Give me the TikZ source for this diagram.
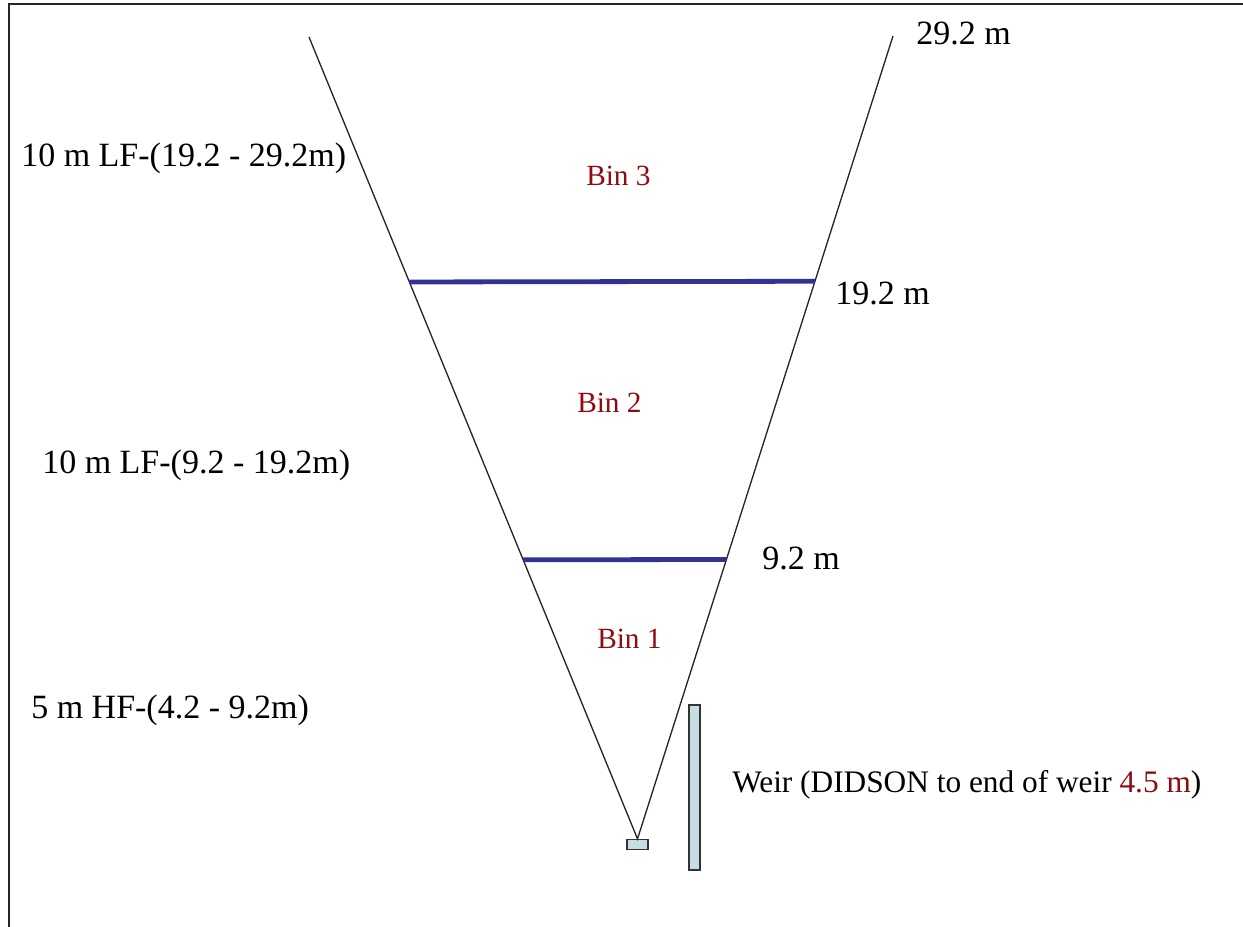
\documentclass[tikz,border=0pt]{standalone}
\usepackage{fontspec}
\setmainfont{Liberation Serif}
\usetikzlibrary{calc}
\definecolor{binblue}{RGB}{50,50,148}
\definecolor{binred}{RGB}{145,10,18}
\definecolor{boxfill}{RGB}{196,222,226}

\begin{document}
\begin{tikzpicture}[x=0.75pt,y=0.75pt,yscale=-1,xscale=1,
  beam/.style={draw=black!85, line width=1pt},
  binline/.style={draw=binblue, line width=3.6pt},
  dimtext/.style={anchor=base west, inner sep=0pt, font=\fontsize{25.5}{30}\selectfont},
  bintext/.style={anchor=base west, inner sep=0pt, text=binred, font=\fontsize{22}{26}\selectfont},
  hardware/.style={draw=black!80, fill=boxfill, line width=0.9pt, inner sep=0pt}]
\useasboundingbox (0,0) rectangle (1243,927);

%Frame
\draw [line width=1.5pt, black!85] (9,927) -- (9,4) -- (1243,4);

%Shape: Rectangle (DIDSON)
\node [hardware, minimum width=15.75pt, minimum height=7.5pt] (didson) at (637.5,844.5) {};
%Shape: Rectangle (weir)
\node [hardware, minimum width=8.25pt, minimum height=123.75pt] (weir) at (694.5,787.5) {};

%Straight Lines (beam)
\coordinate (lefttop) at (309,37);
\coordinate (righttop) at (893,36);
\draw [beam] (lefttop) -- (didson.north) -- (righttop);

%Straight Lines (bin limits)
\draw [binline] ($(didson.north)!0.6945!(lefttop)$) -- ($(didson.north)!0.6945!(righttop)$);
\draw [binline] ($(didson.north)!0.348!(lefttop)$) -- ($(didson.north)!0.348!(righttop)$);

% Text Node
\node [dimtext] (range3) at (21,167) {10 m LF-(19.2 - 29.2m)};
% Text Node
\node [dimtext] (range2) at (42,473) {10 m LF-(9.2 - 19.2m)};
% Text Node
\node [dimtext] (range1) at (31,718) {5 m HF-(4.2 - 9.2m)};
% Text Node
\node [dimtext] (far) at (916,45) {29.2 m};
% Text Node
\node [dimtext] (mid) at (835,305) {19.2 m};
% Text Node
\node [dimtext] (near) at (762,569) {9.2 m};
% Text Node
\node [dimtext, font=\fontsize{23.5}{28}\selectfont] (weirlabel) at (732,792) {Weir (DIDSON to end of weir \textcolor{binred}{4.5 m})};
% Text Node
\node [bintext] (bin3) at (586,186) {Bin 3};
% Text Node
\node [bintext] (bin2) at (577,412) {Bin 2};
% Text Node
\node [bintext] (bin1) at (597,648) {Bin 1};

\end{tikzpicture}
\end{document}
